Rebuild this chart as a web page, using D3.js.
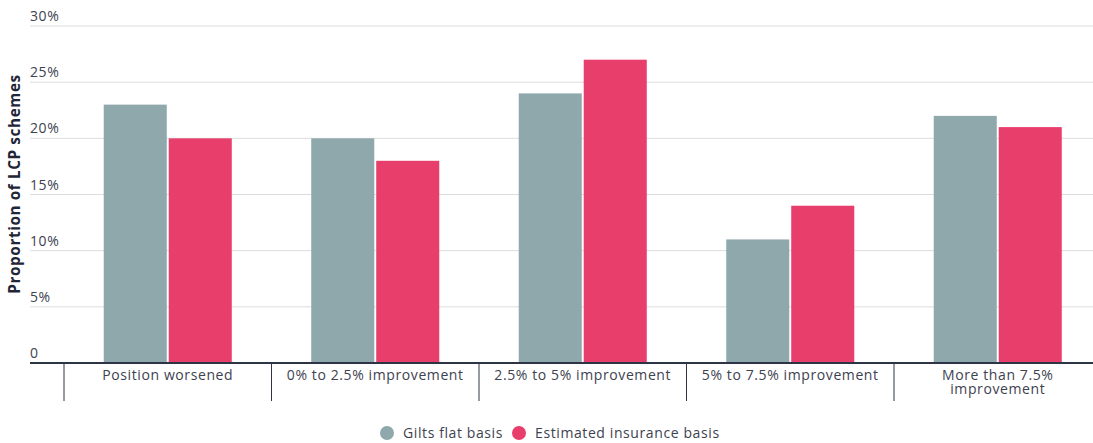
<!DOCTYPE html>
<html>
<head>
<meta charset="utf-8">
<script src="https://cdn.jsdelivr.net/npm/d3@7"></script>
<style>
  html, body { margin: 0; padding: 0; background: #fff; }
  svg { display: block; font-family: "Open Sans", "Lato", sans-serif; }
  text { letter-spacing: 0.6px; }
</style>
</head>
<body>
<svg id="chart" width="1093" height="443"></svg>
<script>
// Funding position change categories
const categories = [
  ["Position worsened"],
  ["0% to 2.5% improvement"],
  ["2.5% to 5% improvement"],
  ["5% to 7.5% improvement"],
  ["More than 7.5%", "improvement"]
];
const seriesNames = ["Gilts flat basis", "Estimated insurance basis"];
const giltsFlat = [23, 20, 24, 11, 22];
const insuranceBasis = [20, 18, 27, 14, 21];
const yTicks = [0, 5, 10, 15, 20, 25, 30];
const colors = ["#8fa8ac", "#e83e6c"];

const svg = d3.select("#chart");
const plotLeft = 30, plotRight = 1093;
const yTop = 26, yBase = 363;

const y = d3.scaleLinear().domain([0, 30]).range([yBase, yTop]);
const x0 = d3.scaleBand().domain(d3.range(categories.length)).range([64, 1101.5]).paddingInner(0).paddingOuter(0);
const groupW = x0.bandwidth() * 0.617;
const x1 = d3.scaleBand().domain([0, 1]).range([0, groupW]).paddingInner(0.03);

// Gridlines and tick labels
const grid = svg.append("g");
yTicks.filter(t => t > 0).forEach(t => {
  grid.append("line")
    .attr("x1", plotLeft).attr("x2", plotRight)
    .attr("y1", y(t)).attr("y2", y(t))
    .attr("stroke", "#dcdcdc").attr("stroke-width", 1);
});
yTicks.forEach(t => {
  grid.append("text")
    .attr("x", plotLeft)
    .attr("y", y(t) - 5)
    .attr("font-size", 14)
    .attr("fill", "#3d4250")
    .text(t === 0 ? "0" : t + "%");
});

// Bars
const data = categories.map((c, i) => [giltsFlat[i], insuranceBasis[i]]);
const groups = svg.append("g").selectAll("g").data(data).join("g")
  .attr("transform", (d, i) => `translate(${x0(i) + (x0.bandwidth() - groupW) / 2},0)`);
groups.selectAll("rect").data(d => d).join("rect")
  .attr("x", (d, j) => x1(j))
  .attr("width", x1.bandwidth())
  .attr("y", d => y(d))
  .attr("height", d => yBase - y(d))
  .attr("fill", (d, j) => colors[j]);

// Baseline and category separators
svg.append("line")
  .attr("x1", plotLeft).attr("x2", plotRight)
  .attr("y1", yBase).attr("y2", yBase)
  .attr("stroke", "#2d3446").attr("stroke-width", 2);
d3.range(categories.length + 1).forEach(i => {
  const xs = x0.range()[0] + i * x0.step();
  if (xs > plotRight) return;
  svg.append("line")
    .attr("x1", xs).attr("x2", xs)
    .attr("y1", yBase).attr("y2", 401)
    .attr("stroke", "#2d3446").attr("stroke-width", 1);
});

// Category labels
categories.forEach((lines, i) => {
  const cx = x0(i) + x0.bandwidth() / 2;
  lines.forEach((ln, k) => {
    svg.append("text")
      .attr("x", cx)
      .attr("y", 380 + k * 14)
      .attr("text-anchor", "middle")
      .attr("font-size", 14)
      .attr("fill", "#3d4250")
      .text(ln);
  });
});

// Y axis title
svg.append("text")
  .attr("transform", "translate(20,184) rotate(-90)")
  .attr("text-anchor", "middle")
  .attr("font-size", 15.3)
  .attr("font-weight", "bold")
  .attr("fill", "#1f2638")
  .text("Proportion of LCP schemes");

// Legend
const legend = svg.append("g");
const legendItems = [{ cx: 387, tx: 403 }, { cx: 519, tx: 535 }];
seriesNames.forEach((name, j) => {
  legend.append("circle")
    .attr("cx", legendItems[j].cx).attr("cy", 433).attr("r", 7)
    .attr("fill", colors[j]);
  legend.append("text")
    .attr("x", legendItems[j].tx).attr("y", 438)
    .attr("font-size", 14)
    .attr("fill", "#3d4250")
    .text(name);
});
</script>
</body>
</html>
